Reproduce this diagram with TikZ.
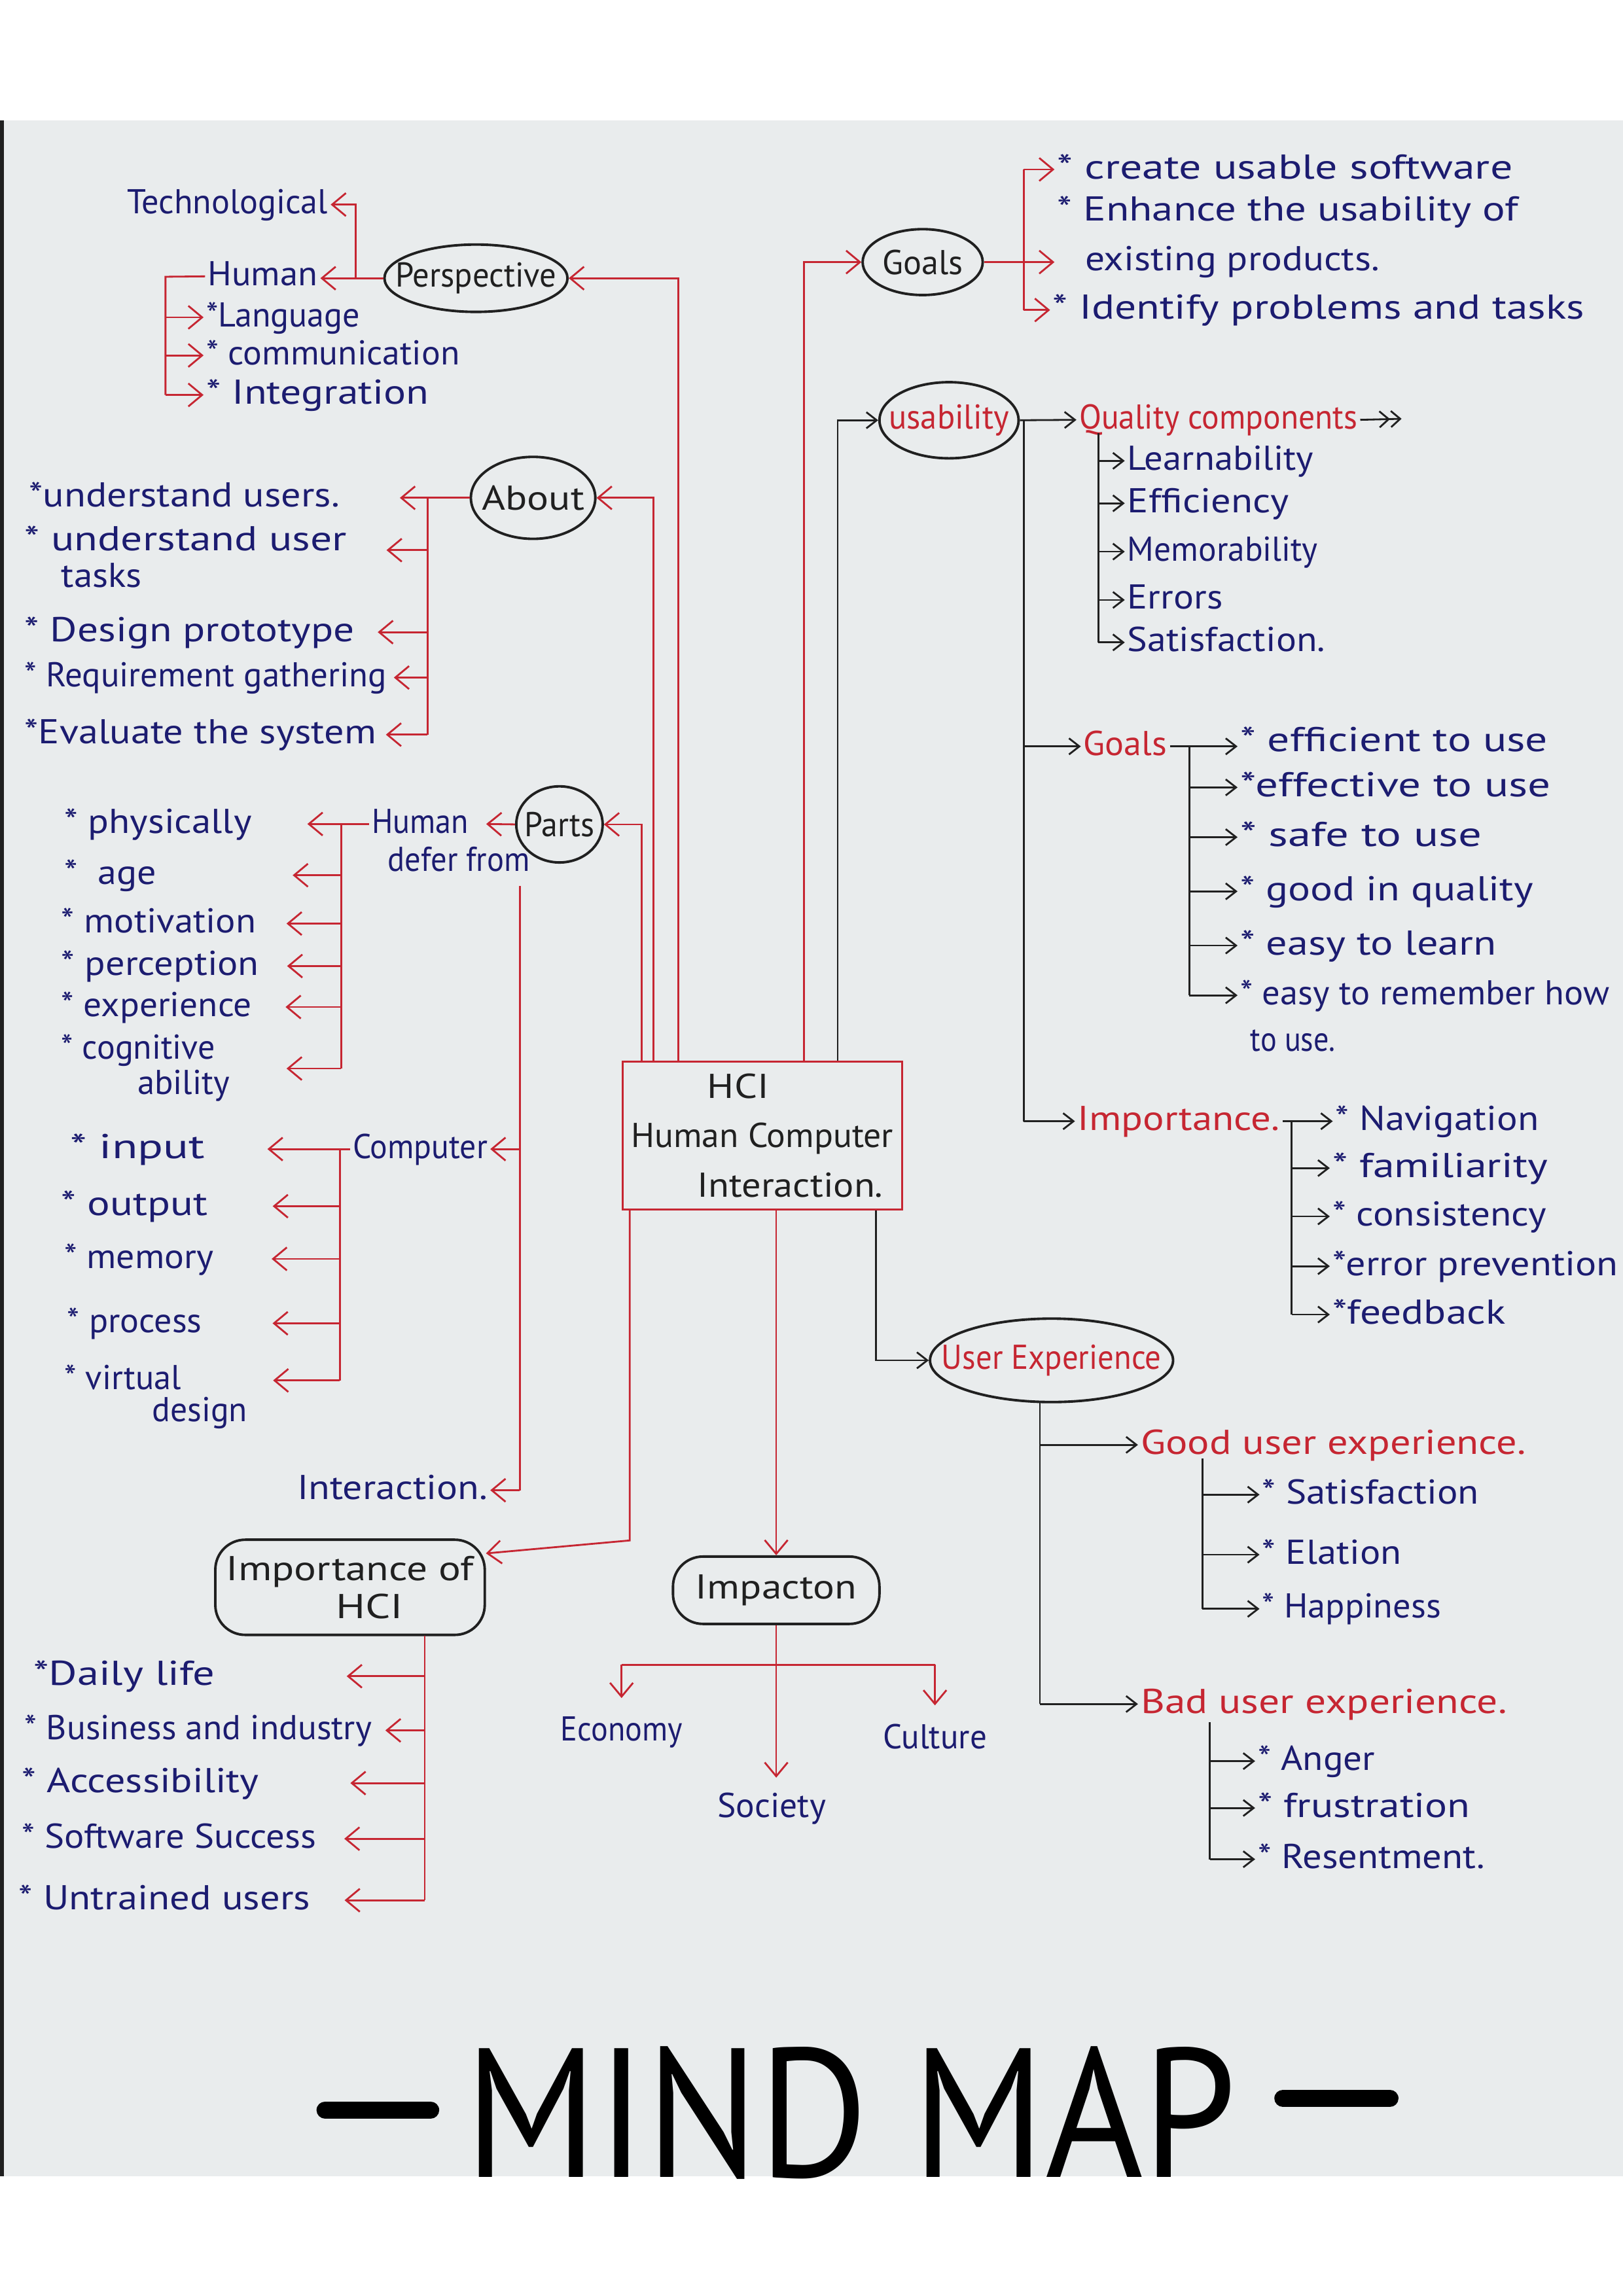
\documentclass[tikz,border=0pt]{standalone}
\usepackage{fontspec}
\setmainfont{PT Sans}
\usepackage{graphicx}
\usetikzlibrary{shapes.geometric,arrows.meta}
\newlength\uu \setlength\uu{0.02238cm}
\def\U{0.63677pt}
\newcommand\tw[2]{\resizebox{#1\uu}{\height}{#2}}
\newcommand\twol[3]{\vtop{\baselineskip=#1\lineskiplimit=-100pt\lineskip=0pt\relax\hbox{#2}\hbox{#3}}}
\newcommand\hwf{\fontsize{15pt}{15pt}\selectfont}
\definecolor{paper}{RGB}{233,236,237}
\definecolor{bink}{RGB}{28,28,112}
\definecolor{rink}{RGB}{198,38,50}
\definecolor{kink}{RGB}{32,32,32}
\begin{document}
\begin{tikzpicture}[x=0.02238cm,y=-0.02238cm,
 txt/.style={anchor=base west, inner sep=1pt, text height=12pt, text depth=4pt, font=\hwf, text=bink},
 rtxt/.style={txt, text=rink},
 bub/.style={ellipse, draw=kink, line width=1.1pt, inner sep=0pt},
 lbl/.style={font=\hwf, text=kink},
 rlbl/.style={font=\hwf, text=rink},
 rl/.style={draw=rink, line width=0.8pt},
 ra/.style={rl, -{Straight Barb[length=6pt,width=10pt]}},
 kl/.style={draw=kink, line width=0.8pt},
 ka/.style={kl, -{Straight Barb[length=4.5pt,width=7pt]}},
]
\useasboundingbox (0,0) rectangle (1108,1568);
\fill[white] (0,0) rectangle (1108,1568);
\fill[paper] (0,82) rectangle (1108,1486);
\fill[kink] (0,82) rectangle (2.5,1486);

% ---------- centre box
\node[draw=rink, line width=0.9pt, minimum width={191*\U}, minimum height={101*\U}, inner sep=0pt, font=\hwf, text=kink] (hci) at (520.5,775.5)
 {\vtop{\baselineskip=21.6pt\lineskiplimit=-100pt\relax\hbox{\kern52\uu\tw{42}{HCI}}\hbox{\tw{179}{Human Computer}}\hbox{\kern45\uu\tw{127}{Interaction.}}}};

% ---------- Perspective
\node[bub, minimum width={125*\U}, minimum height={46*\U}, label={[lbl]center:\tw{110}{Perspective}}] (persp) at (325,190) {};
\node[txt] (techno) at (85,146) {\tw{137}{Technological}};
\node[txt] (humanP) at (140,195) {\tw{75}{Human}};
\node[txt] (lang) at (139,223) {\tw{105}{*Language}};
\node[txt] (comm) at (139,249) {\tw{173}{* communication}};
\node[txt] (integ) at (139,276) {\tw{152}{* Integration}};

% ---------- About
\node[bub, minimum width={85*\U}, minimum height={56*\U}, label={[lbl]center:\tw{70}{About}}] (about) at (364,340) {};
\node[txt] (au1) at (18,346) {\tw{212}{*understand users.}};
\node[txt] (au2) at (15,376) {\twol{16pt}{\tw{220}{* understand user}}{\kern25\uu\tw{55}{tasks}}};
\node[txt] (au3) at (15,438) {\tw{225}{* Design prototype}};
\node[txt] (au4) at (15,469) {\tw{247}{* Requirement gathering}};
\node[txt] (au5) at (15,508) {\tw{240}{*Evaluate the system}};

% ---------- Parts
\node[bub, minimum width={59*\U}, minimum height={52*\U}, label={[lbl]center:\tw{48}{Parts}}] (parts) at (382,563) {};
\node[txt] (hdf) at (252,569) {\twol{16.6pt}{\tw{66}{Human}}{\kern11\uu\tw{97}{defer from}}};
\node[txt] (ph1) at (42,569) {\tw{128}{* physically}};
\node[txt] (ph2) at (42,604) {\tw{63}{*~~age}};
\node[txt] (ph3) at (40,637) {\tw{133}{* motivation}};
\node[txt] (ph4) at (40,666) {\tw{135}{* perception}};
\node[txt] (ph5) at (40,694) {\tw{130}{* experience}};
\node[txt] (ph6) at (40,723) {\twol{15.5pt}{\tw{105}{* cognitive}}{\kern52\uu\tw{63}{ability}}};
\node[txt] (comp) at (239,791) {\tw{92}{Computer}};
\node[txt] (c1) at (46,791) {\tw{92}{* input}};
\node[txt] (c2) at (40,830) {\tw{100}{* output}};
\node[txt] (c3) at (42,866) {\tw{102}{* memory}};
\node[txt] (c4) at (44,910) {\tw{92}{* process}};
\node[txt] (c5) at (42,949) {\twol{14pt}{\tw{80}{* virtual}}{\kern60\uu\tw{65}{design}}};
\node[txt] (inter) at (201,1024) {\tw{130}{Interaction.}};

% ---------- Importance of HCI
\node[draw=kink, line width=1.1pt, rounded corners=13pt, minimum width={184*\U}, minimum height={65*\U}, inner sep=0pt, font=\hwf, text=kink] (impHCI) at (239,1084)
 {\twol{16.6pt}{\tw{169}{Importance of}}{\kern75\uu\tw{46}{HCI}}};
\node[txt] (i1) at (21,1151) {\tw{124}{*Daily life}};
\node[txt] (i2) at (15,1188) {\tw{237}{* Business and industry}};
\node[txt] (i3) at (13,1224) {\tw{162}{* Accessibility}};
\node[txt] (i4) at (13,1262) {\tw{201}{* Software Success}};
\node[txt] (i5) at (11,1304) {\tw{199}{* Untrained users}};

% ---------- Impacton
\node[draw=kink, line width=1.1pt, rounded corners=13pt, minimum width={141*\U}, minimum height={46*\U}, inner sep=0pt, font=\hwf, text=kink] (impact) at (530,1086) {\tw{110}{Impacton}};
\node[txt] (econ) at (381,1189) {\tw{83}{Economy}};
\node[txt] (soc) at (488,1241) {\tw{74}{Society}};
\node[txt] (cult) at (601,1194) {\tw{71}{Culture}};

% ---------- Goals
\node[bub, minimum width={82*\U}, minimum height={45*\U}, label={[lbl]center:\tw{55}{Goals}}] (goals) at (630,179) {};
\node[txt] (g1) at (720,122) {\tw{311}{* create usable software}};
\node[txt] (g2) at (720,151) {\twol{21.6pt}{\tw{315}{* Enhance the usability of}}{\kern19\uu\tw{201}{existing products.}}};
\node[txt] (g4) at (717,218) {\tw{363}{* Identify problems and tasks}};

% ---------- usability
\node[bub, minimum width={95*\U}, minimum height={52*\U}, label={[rlbl]center:\tw{82}{usability}}] (usab) at (648,287) {};
\node[rtxt] (qc) at (735,293) {\tw{190}{Quality components}};
\node[txt] (q1) at (768,321) {\tw{127}{Learnability}};
\node[txt] (q2) at (768,350) {\tw{110}{Efficiency}};
\node[txt] (q3) at (768,383) {\tw{130}{Memorability}};
\node[txt] (q4) at (768,416) {\tw{65}{Errors}};
\node[txt] (q5) at (768,445) {\tw{135}{Satisfaction.}};
\node[rtxt] (goalsU) at (738,516) {\tw{57}{Goals}};
\node[txt] (e1) at (845,513) {\tw{210}{* efficient to use}};
\node[txt] (e2) at (845,544) {\tw{212}{*effective to use}};
\node[txt] (e3) at (845,578) {\tw{165}{* safe to use}};
\node[txt] (e4) at (845,615) {\tw{200}{* good in quality}};
\node[txt] (e5) at (845,652) {\tw{175}{* easy to learn}};
\node[txt] (e6) at (845,686) {\twol{20.4pt}{\tw{252}{* easy to remember how}}{\kern7\uu\tw{58}{to use.}}};
\node[rtxt] (imp) at (734,772) {\tw{138}{Importance.}};
\node[txt] (f1) at (910,772) {\tw{139}{* Navigation}};
\node[txt] (f2) at (908,804) {\tw{147}{* familiarity}};
\node[txt] (f3) at (908,837) {\tw{146}{* consistency}};
\node[txt] (f4) at (908,871) {\tw{195}{*error prevention}};
\node[txt] (f5) at (908,904) {\tw{118}{*feedback}};

% ---------- User Experience
\node[bub, minimum width={166*\U}, minimum height={57*\U}, label={[rlbl]center:\tw{150}{User Experience}}] (ux) at (718,929) {};
\node[rtxt] (gux) at (777,993) {\tw{263}{Good user experience.}};
\node[txt] (s1) at (860,1027) {\tw{148}{* Satisfaction}};
\node[txt] (s2) at (860,1068) {\tw{95}{* Elation}};
\node[txt] (s3) at (860,1105) {\tw{122}{* Happiness}};
\node[rtxt] (bux) at (777,1170) {\tw{250}{Bad user experience.}};
\node[txt] (b1) at (857,1209) {\tw{80}{* Anger}};
\node[txt] (b2) at (857,1241) {\tw{145}{* frustration}};
\node[txt] (b3) at (857,1276) {\tw{155}{* Resentment.}};

% ---------- title
\node[font=\fontsize{80pt}{80pt}\selectfont, text=black, inner sep=0pt] (title) at (581,1443) {\tw{527}{MIND MAP}};
\draw[line width=7.5pt, line cap=round] (222,1441) -- (294,1441);
\draw[line width=7.5pt, line cap=round] (876,1433) -- (949,1433);

% ========== connectors
% trunks from HCI
\coordinate (tPa) at (438,563);
\draw[ra] (tPa |- hci.north) -- (tPa) -- (parts.east);
\coordinate (tAb) at (446,340);
\draw[ra] (tAb |- hci.north) -- (tAb) -- (about.east);
\coordinate (tPe) at (463,190);
\draw[ra] (tPe |- hci.north) -- (tPe) -- (persp.east);
\coordinate (tGo) at (549,179);
\draw[ra] (tGo |- hci.north) -- (tGo) -- (goals.west);
\coordinate (tUs) at (572,287);
\draw[ka] (tUs |- hci.north) -- (tUs) -- (usab.west);
\coordinate (tIh) at (430,1052);
\draw[ra] (tIh |- hci.south) -- (tIh) -- (impHCI.14);
\draw[ra] (impact.north |- hci.south) -- (impact.north);
\coordinate (tUx) at (598,929);
\draw[ka] (tUx |- hci.south) -- (tUx) -- (ux.west);

% Perspective
\coordinate (jP) at (243,190);
\draw[ra] (persp.west) -- (persp.west -| humanP.east);
\draw[ra] (jP) |- (techno.east);
\coordinate (bH) at (113,189);
\draw[rl] (humanP.west) -- (bH) -- (bH |- integ.west);
\foreach \n in {lang,comm,integ} \draw[ra] (bH |- \n.west) -- (\n.west);

% About
\coordinate (aV) at (292,340);
\draw[ra, shorten >=25pt] (about.west) -- (about.west -| au1.east);
\draw[rl] (aV) -- (aV |- au5.east);
\draw[ra, shorten >=16pt] ([yshift={-6*\U}]aV |- au2.east) -- ([yshift={-6*\U}]au2.east);
\draw[ra, shorten >=9pt] (aV |- au3.east) -- (au3.east);
\draw[ra, shorten >=2pt] (aV |- au4.east) -- (au4.east);
\draw[ra, shorten >=3pt] (aV |- au5.east) -- (au5.east);

% Parts
\draw[ra] (parts.west) -- ([xshift={80*\U}]hdf.west);
\coordinate (pv) at ([xshift={-27*\U},yshift={-42*\U}]parts.center);
\draw[rl] (pv) -- (pv |- inter.east);
\draw[ra] (pv |- comp.east) -- (comp.east);
\draw[ra] (pv |- inter.east) -- (inter.east);

% Human differ
\coordinate (hv) at (233,563);
\coordinate (ph6t) at ([yshift={-13*\U}]ph6.east);
\draw[ra, shorten >=23pt] (hdf.west) -- (hdf.west -| ph1.east);
\draw[rl] (hv) -- (hv |- ph6t);
\draw[ra, shorten >=58pt] (hv |- ph2.east) -- (ph2.east);
\draw[ra, shorten >=12pt] (hv |- ph3.east) -- (ph3.east);
\draw[ra, shorten >=11pt] (hv |- ph4.east) -- (ph4.east);
\draw[ra, shorten >=13.5pt] (hv |- ph5.east) -- (ph5.east);
\draw[ra, shorten >=23.5pt] (hv |- ph6t) -- (ph6t);

% Computer
\coordinate (cv) at (232,785);
\draw[ra, shorten >=26pt] (comp.west) -- (comp.west -| c1.east);
\draw[rl] (cv) -- (cv |- c5.east);
\draw[ra, shorten >=27pt] (cv |- c2.east) -- (c2.east);
\draw[ra, shorten >=24pt] (cv |- c3.east) -- (c3.east);
\draw[ra, shorten >=29.5pt] (cv |- c4.east) -- (c4.east);
\draw[ra, shorten >=10pt] (cv |- c5.east) -- (c5.east);

% Importance of HCI
\coordinate (iv) at (290,1117);
\draw[rl] (iv) -- (iv |- i5.east);
\draw[ra, shorten >=56pt] (iv |- i1.east) -- (i1.east);
\draw[ra, shorten >=4.7pt] (iv |- i2.east) -- (i2.east);
\draw[ra, shorten >=38.5pt] (iv |- i3.east) -- (i3.east);
\draw[ra, shorten >=11pt] (iv |- i4.east) -- (i4.east);
\draw[ra, shorten >=13.7pt] (iv |- i5.east) -- (i5.east);

% Impacton
\coordinate (ih) at ([yshift={-27*\U}]impact.south);
\draw[rl] (econ.north |- ih) -- (cult.north |- ih);
\draw[ra, shorten >=5.5pt] (econ.north |- ih) -- (econ.north);
\draw[ra, shorten >=5.5pt] (cult.north |- ih) -- (cult.north);
\draw[ra, shorten >=4pt] (impact.south) -- (impact.south |- soc.north);

% Goals
\draw[ra] (goals.east) -- (goals.east -| g2.west);
\coordinate (gv) at (699,179);
\draw[rl] (gv |- g1.west) -- (gv |- g4.west);
\draw[ra] (gv |- g1.west) -- (g1.west);
\draw[ra] (gv |- g4.west) -- (g4.west);

% usability
\draw[ka] (usab.east) -- (qc.west);
\coordinate (qEnd) at (957,286);
\draw[kl, -{Straight Barb[length=4pt,width=7pt] Straight Barb[length=4pt,width=7pt]}] (qc.east) -- (qEnd);
\coordinate (qv) at (750,296);
\draw[kl] (qv) -- (qv |- q5.west);
\foreach \n in {q1,q2,q3,q4,q5} \draw[ka] (qv |- \n.west) -- (\n.west);
\coordinate (uv) at (699,287);
\draw[kl] (uv) -- (uv |- imp.west);
\draw[ka] (uv |- goalsU.west) -- (goalsU.west);
\draw[ka] (uv |- imp.west) -- (imp.west);
\draw[ka] (goalsU.east) -- (goalsU.east -| e1.west);
\coordinate (ev) at (812,510);
\draw[kl] (ev) -- (ev |- e6.west);
\foreach \n in {e2,e3,e4,e5,e6} \draw[ka] (ev |- \n.west) -- (\n.west);
\draw[ka] (imp.east) -- (imp.east -| f1.west);
\coordinate (fv) at (882,766);
\draw[kl] (fv) -- (fv |- f5.west);
\foreach \n in {f2,f3,f4,f5} \draw[ka] (fv |- \n.west) -- (\n.west);

% User Experience
\coordinate (xv) at (710,957);
\draw[kl] (xv) -- (xv |- bux.west);
\draw[ka] (xv |- gux.west) -- (gux.west);
\draw[ka] (xv |- bux.west) -- (bux.west);
\coordinate (sv) at (821,996);
\draw[kl] (sv) -- (sv |- s3.west);
\foreach \n in {s1,s2,s3} \draw[ka] (sv |- \n.west) -- (\n.west);
\coordinate (bv) at (826,1176);
\draw[kl] (bv) -- (bv |- b3.west);
\foreach \n in {b1,b2,b3} \draw[ka] (bv |- \n.west) -- (\n.west);
\end{tikzpicture}
\end{document}
